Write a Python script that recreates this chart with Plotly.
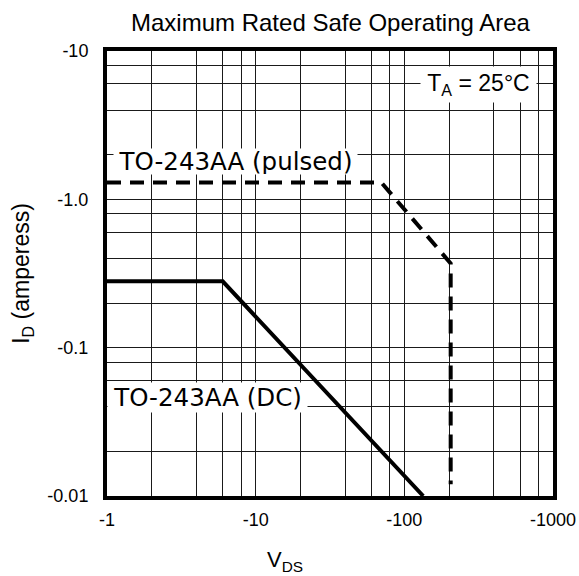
import plotly.graph_objects as go

# ---- data (V_DS and I_D are negative, plotted as magnitudes) ----
vds_dc = [1, 6, 134]
id_dc = [0.28, 0.28, 0.01]

vds_pulsed = [1, 70, 205, 205]
id_pulsed = [1.3, 1.3, 0.37, 0.012]

x_tickvals = [1, 10, 100, 1000]
x_ticktext = ["-1", "-10", "-100", "-1000"]
y_tickvals = [0.01, 0.1, 1, 10]
y_ticktext = ["-0.01", "-0.1", "-1.0", "-10"]
minor_mult = [2, 4, 6, 8]
x_decades = [1, 10, 100]
y_decades = [0.01, 0.1, 1]

label_pulsed = "TO-243AA (pulsed)"
label_dc = "TO-243AA (DC)"
label_temp = "T<sub>A</sub> = 25°C"

x_minor = [m * d for d in x_decades for m in minor_mult]
y_minor = [m * d for d in y_decades for m in minor_mult]

fig = go.Figure()
fig.add_trace(go.Scatter(x=vds_dc, y=id_dc, mode="lines",
                         line=dict(color="black", width=4), name="DC"))
fig.add_trace(go.Scatter(x=vds_pulsed, y=id_pulsed, mode="lines",
                         line=dict(color="black", width=4, dash="14px,9px"), name="pulsed"))

grid_col = "#1a1a1a"
axis_common = dict(
    type="log", showline=True, linecolor="black", linewidth=4, mirror=True,
    showgrid=True, gridcolor=grid_col, gridwidth=1, ticks="", zeroline=False,
    automargin=False,
    tickfont=dict(family="Liberation Sans, Arial", size=18, color="black"),
)

fig.update_xaxes(range=[0, 3], tickmode="array", tickvals=x_tickvals, ticktext=x_ticktext,
                 ticklabelstandoff=4,
                 minor=dict(tickvals=x_minor, showgrid=True, gridcolor=grid_col, gridwidth=1, ticks=""),
                 **axis_common)
fig.update_yaxes(range=[-2, 1], tickmode="array", tickvals=y_tickvals, ticktext=y_ticktext,
                 ticklabelstandoff=11,
                 minor=dict(tickvals=y_minor, showgrid=True, gridcolor=grid_col, gridwidth=1, ticks=""),
                 title=dict(text="I<sub>D</sub> (amperess)", standoff=12,
                            font=dict(family="Liberation Sans, Arial", size=23, color="black")),
                 **axis_common)

fig.update_layout(
    width=579, height=576,
    margin=dict(l=107, r=26, t=51, b=80),
    plot_bgcolor="white", paper_bgcolor="white",
    showlegend=False,
    title=dict(text="Maximum Rated Safe Operating Area", x=0.501, xref="paper",
               y=0.960, yref="container", xanchor="center", yanchor="middle",
               font=dict(family="Liberation Sans, Arial", size=24, color="black")),
    annotations=[
        dict(text=label_pulsed, xref="paper", yref="paper", x=0.0135, y=0.7528,
             xanchor="left", yanchor="middle", showarrow=False, bgcolor="white",
             borderpad=0, width=243, height=25, align="center",
             font=dict(family="DejaVu Sans", size=24.5, color="black")),
        dict(text=label_dc, xref="paper", yref="paper", x=0.0, y=0.2213,
             xanchor="left", yanchor="middle", showarrow=False, bgcolor="white",
             borderpad=0, width=199, height=29, align="center",
             font=dict(family="DejaVu Sans", size=24.5, color="black")),
        dict(text=label_temp, xref="paper", yref="paper", x=0.7018, y=0.9247,
             xanchor="left", yanchor="middle", showarrow=False, bgcolor="white",
             borderpad=0, width=115, height=35, align="center",
             font=dict(family="Liberation Sans, Arial", size=23, color="black")),
        dict(text="V<sub>DS</sub>", xref="paper", yref="paper", x=0.4002, y=-0.146,
             xanchor="center", yanchor="middle", showarrow=False,
             font=dict(family="Liberation Sans, Arial", size=22, color="black")),
    ],
)

fig.write_html("out.html", config={"displayModeBar": False},
               post_script="document.body.style.margin='0';document.body.style.overflow='hidden';")
